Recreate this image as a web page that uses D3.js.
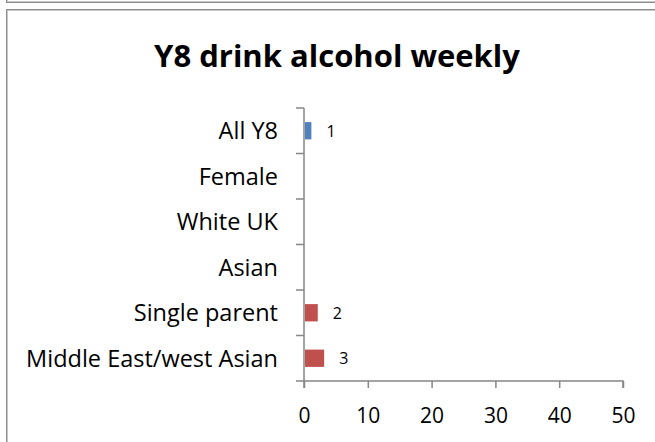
<!DOCTYPE html>
<html>
<head>
<meta charset="utf-8">
<script src="https://cdn.jsdelivr.net/npm/d3@7"></script>
<style>
  html, body { margin: 0; padding: 0; background: #fff; }
  svg { display: block; }
  text { font-family: "Open Sans", sans-serif; fill: #000; }
</style>
</head>
<body>
<svg id="chart" width="655" height="442"></svg>
<script>
// Share of Year 8 pupils drinking alcohol weekly, by group (%)
const categories = ["All Y8", "Female", "White UK", "Asian", "Single parent", "Middle East/west Asian"];
const values = [1, null, null, null, 2, 3];
const barColors = ["#4F81BD", null, null, null, "#C0504D", "#C0504D"];
const xTicks = [0, 10, 20, 30, 40, 50];

const svg = d3.select("#chart");
const W = 655, H = 442;

// panel frames (bottom of the panel above, and this chart's box)
const frameG = svg.append("g");
function frame(x, y, w, h) {
  frameG.append("rect").attr("x", x + 0.5).attr("y", y + 0.5).attr("width", w).attr("height", h)
    .attr("fill", "none").attr("stroke", "#8c8c8c").attr("stroke-width", 1);
  frameG.append("rect").attr("x", x + 1.5).attr("y", y + 1.5).attr("width", w - 2).attr("height", h - 2)
    .attr("fill", "none").attr("stroke", "#c8c8c8").attr("stroke-width", 1);
}
frame(6, -100, 700, 102);
frame(6, 9, 700, 500);

const margin = { left: 304, right: 32, top: 108, bottom: 61 };
const x = d3.scaleLinear().domain([0, 50]).range([margin.left, W - margin.right]);
const y = d3.scaleBand().domain(categories).range([margin.top, H - margin.bottom]).paddingInner(0.62).paddingOuter(0.31);
const yOuter = d3.scaleBand().domain(categories).range([margin.top, H - margin.bottom]);

// title
svg.append("text")
  .attr("x", 337).attr("y", 67)
  .attr("text-anchor", "middle")
  .style("font-size", "31px").style("font-weight", "bold")
  .text("Y8 drink alcohol weekly");

const axisColor = "#868686";

// category axis with boundary ticks
const yAxisG = svg.append("g");
yAxisG.append("line")
  .attr("x1", x(0)).attr("x2", x(0))
  .attr("y1", margin.top).attr("y2", H - margin.bottom + 7)
  .attr("stroke", axisColor).attr("stroke-width", 1.5);
const bounds = categories.map(c => yOuter(c));
yAxisG.selectAll("line.tick").data(bounds).join("line")
  .attr("class", "tick")
  .attr("x1", x(0) - 8).attr("x2", x(0))
  .attr("y1", d => d).attr("y2", d => d)
  .attr("stroke", axisColor).attr("stroke-width", 1.5);
yAxisG.selectAll("text").data(categories).join("text")
  .attr("x", x(0) - 26)
  .attr("y", d => yOuter(d) + yOuter.bandwidth() / 2)
  .attr("dy", "0.36em")
  .attr("text-anchor", "end")
  .style("font-size", "23.5px")
  .text(d => d);

// value axis
const xAxis = d3.axisBottom(x).tickValues(xTicks).tickSize(7).tickPadding(20).tickFormat(d3.format("d"));
const xAxisG = svg.append("g")
  .attr("transform", `translate(0,${H - margin.bottom})`)
  .call(xAxis);
xAxisG.select(".domain").attr("stroke", axisColor).attr("stroke-width", 1.5)
  .attr("d", `M${x(0) - 8},0H${x(50)}V7`);
xAxisG.selectAll(".tick line").attr("stroke", axisColor).attr("stroke-width", 1.5);
xAxisG.selectAll(".tick text").style("font-size", "21px").style("font-family", "'Open Sans', sans-serif").attr("fill", "#000");

// bars
const data = categories.map((c, i) => ({ c, v: values[i], color: barColors[i] })).filter(d => d.v != null);
svg.append("g").selectAll("rect").data(data).join("rect")
  .attr("x", x(0) + 1)
  .attr("y", d => y(d.c))
  .attr("width", d => x(d.v) - x(0))
  .attr("height", y.bandwidth())
  .attr("fill", d => d.color);

// value labels
svg.append("g").selectAll("text").data(data).join("text")
  .attr("x", d => x(d.v) + 16)
  .attr("y", d => y(d.c) + y.bandwidth() / 2)
  .attr("dy", "0.36em")
  .style("font-size", "16px")
  .text(d => d.v);
</script>
</body>
</html>
